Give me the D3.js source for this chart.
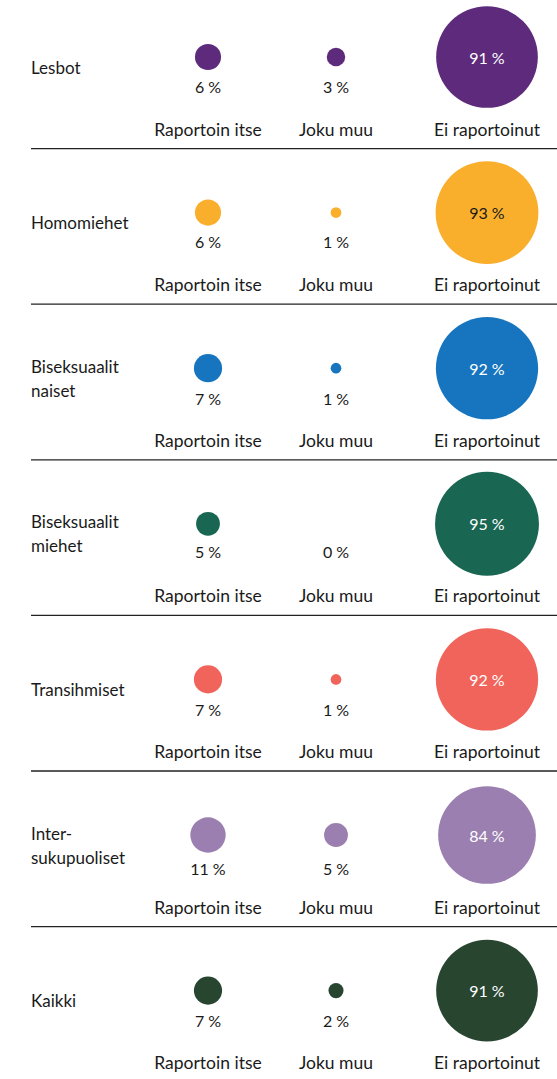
<!DOCTYPE html>
<html>
<head>
<meta charset="utf-8">
<script src="https://cdn.jsdelivr.net/npm/d3@7"></script>
<style>
  html, body { margin: 0; padding: 0; background: #fff; }
  svg text { font-family: Lato, "Open Sans", sans-serif; fill: #1a1a1a; }
</style>
</head>
<body>
<svg id="chart" width="557" height="1079"></svg>
<script>
// data
var groups = ['Lesbot', 'Homomiehet', 'Biseksuaalit naiset', 'Biseksuaalit miehet',
  'Transihmiset', 'Intersukupuoliset', 'Kaikki'];
var groupLines = [['Lesbot'], ['Homomiehet'], ['Biseksuaalit', 'naiset'],
  ['Biseksuaalit', 'miehet'], ['Transihmiset'], ['Inter-', 'sukupuoliset'], ['Kaikki']];
var categories = ['Raportoin itse', 'Joku muu', 'Ei raportoinut'];
var raportoinItse = [6, 6, 7, 5, 7, 11, 7];
var jokuMuu = [3, 1, 1, 0, 1, 5, 2];
var eiRaportoinut = [91, 93, 92, 95, 92, 84, 91];
var groupColors = ['#5e2a7c', '#f9af2c', '#1675be', '#196652', '#f0645b', '#9b7fb0', '#284530'];
var innerTextColors = ['#ffffff', '#1a1a1a', '#ffffff', '#ffffff', '#ffffff', '#ffffff', '#ffffff'];

var svg = d3.select('#chart');
var rowH = 155.6;

var rowScale = d3.scaleBand()
  .domain(groups)
  .range([-7, -7 + groups.length * rowH]);

var xScale = d3.scaleOrdinal()
  .domain(categories)
  .range([208, 336, 487]);

var rScale = d3.scaleSqrt()
  .domain([0, 100])
  .range([0, 53.3]);

var rows = groups.map(function (g, i) {
  return {
    name: g,
    lines: groupLines[i],
    color: groupColors[i],
    inner: innerTextColors[i],
    values: [raportoinItse[i], jokuMuu[i], eiRaportoinut[i]]
  };
});

var row = svg.selectAll('.row')
  .data(rows)
  .enter()
  .append('g')
  .attr('class', 'row')
  .attr('transform', d => `translate(0, ${rowScale(d.name)})`);

var cy = 64;

// group label
row.each(function (d) {
  var g = d3.select(this);
  var n = d.lines.length;
  g.selectAll('.glabel')
    .data(d.lines)
    .enter()
    .append('text')
    .attr('class', 'glabel')
    .attr('x', 31)
    .attr('y', (l, j) => cy + 10 + (j - (n - 1) / 2) * 24)
    .attr('dominant-baseline', 'central')
    .style('font-size', '17px')
    .text(l => l);
});

// circles
row.each(function (d) {
  var g = d3.select(this);
  var cells = d.values.map((v, j) => ({ v: v, cat: categories[j], big: j === 2, color: d.color, inner: d.inner }));
  var rMaxSmall = d3.max(cells.filter(c => !c.big), c => rScale(c.v));

  g.selectAll('.bubble')
    .data(cells.filter(c => c.v > 0))
    .enter()
    .append('circle')
    .attr('class', 'bubble')
    .attr('cx', c => xScale(c.cat))
    .attr('cy', cy)
    .attr('r', c => rScale(c.v))
    .style('fill', c => c.color);

  g.selectAll('.pct')
    .data(cells)
    .enter()
    .append('text')
    .attr('class', 'pct')
    .attr('x', c => xScale(c.cat))
    .attr('y', c => c.big ? cy : cy + rMaxSmall + 16)
    .attr('text-anchor', 'middle')
    .attr('dominant-baseline', 'central')
    .style('font-size', '16px')
    .style('fill', c => c.big ? c.inner : '#1a1a1a')
    .text(c => c.v + '\u202F%');

  g.selectAll('.cat')
    .data(cells)
    .enter()
    .append('text')
    .attr('class', 'cat')
    .attr('x', c => xScale(c.cat))
    .attr('y', 136)
    .attr('text-anchor', 'middle')
    .attr('dominant-baseline', 'central')
    .style('font-size', '17.5px')
    .text(c => c.cat);
});

// separators
row.filter((d, i) => i < rows.length - 1)
  .append('line')
  .attr('x1', 31)
  .attr('x2', 557)
  .attr('y1', rowH)
  .attr('y2', rowH)
  .style('stroke', '#222')
  .style('stroke-width', 1.3);
</script>
</body>
</html>
